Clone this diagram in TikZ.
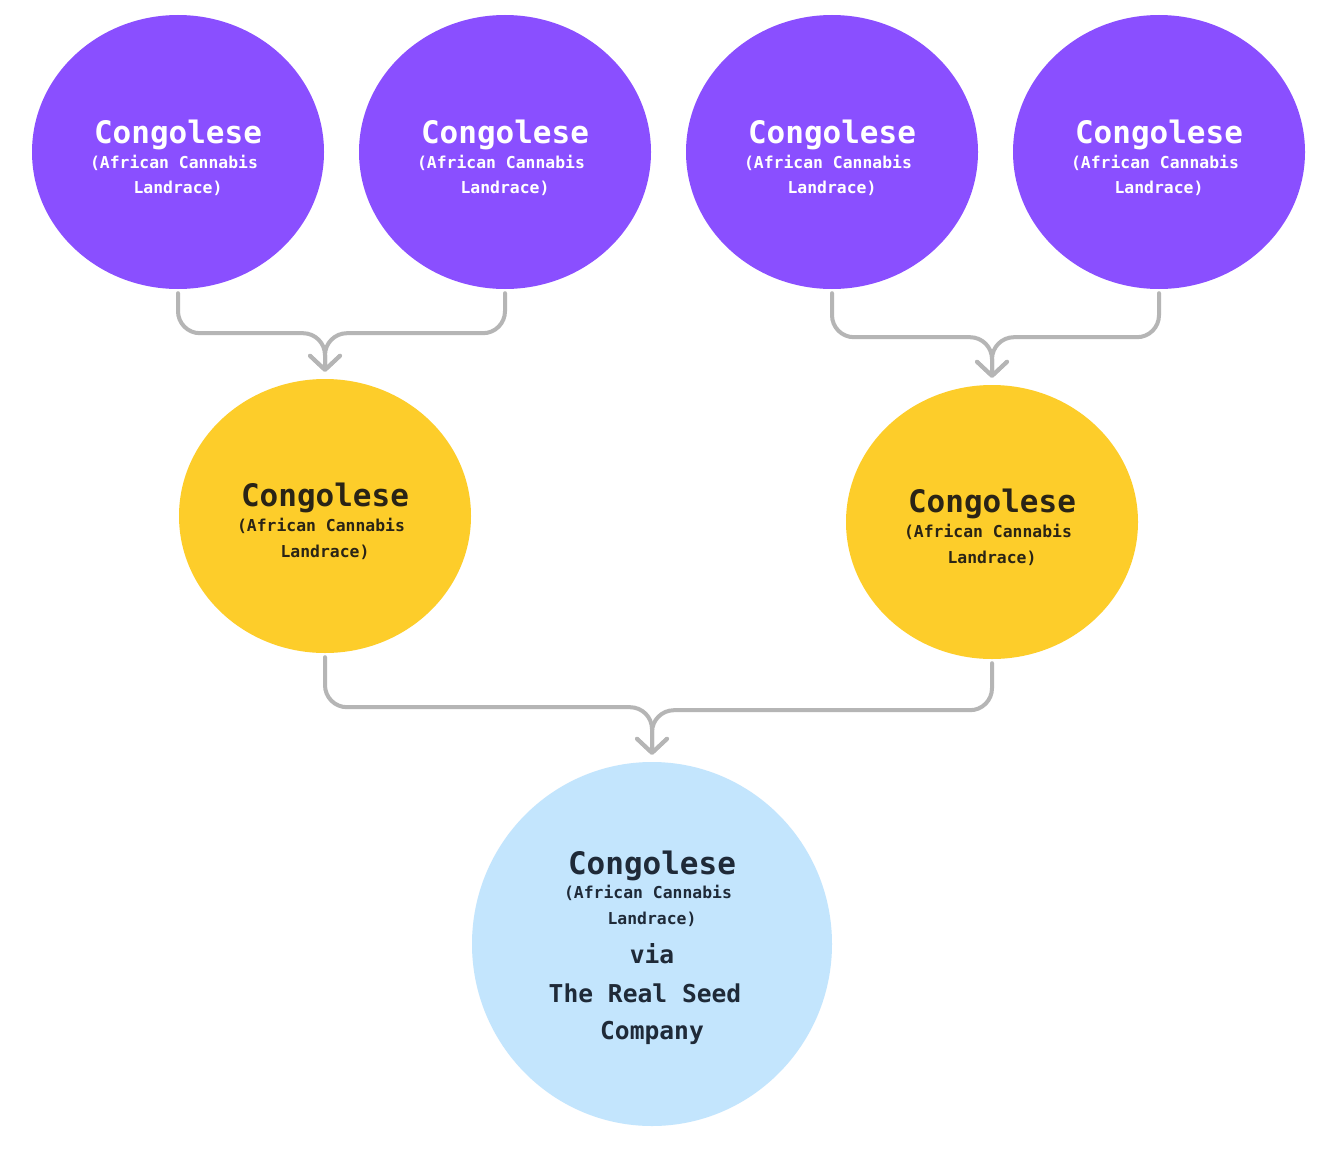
\documentclass[tikz,border=0pt]{standalone}
\usepackage{fontspec}
\newfontfamily\monob{DejaVu Sans Mono}[BoldFont={DejaVu Sans Mono Bold}]
\usetikzlibrary{shapes.geometric,arrows.meta}
\definecolor{purp}{HTML}{8A4FFF}
\definecolor{yel}{HTML}{FDCD2A}
\definecolor{lblue}{HTML}{C3E5FD}
\definecolor{conncol}{HTML}{B5B5B5}
\definecolor{ytext}{HTML}{2A2416}
\definecolor{btext}{HTML}{1F2A38}
\tikzset{
  bubble/.style={ellipse, inner sep=0pt, minimum width=292pt, minimum height=274pt, draw=none},
  bigt/.style={anchor=base, inner sep=0pt, font=\monob\bfseries\fontsize{31}{31}\selectfont},
  smallt/.style={anchor=base, inner sep=0pt, font=\monob\bfseries\fontsize{16.4}{16.4}\selectfont},
  midt/.style={anchor=base, inner sep=0pt, font=\monob\bfseries\fontsize{24.6}{24.6}\selectfont},
  conn/.style={draw=conncol, line width=4pt, rounded corners=22pt, line cap=round,
    -{Straight Barb[length=14pt,width=30pt,line cap=round,line join=round]},
    shorten <=4pt, shorten >=7pt},
}
\begin{document}
\begin{tikzpicture}[x=1pt,y=-1pt]
\useasboundingbox (0,0) rectangle (1341,1156);
\fill[white] (0,0) rectangle (1341,1156);
% purple parents
\foreach \n/\x in {p1/178,p2/505,p3/832,p4/1159}{
  \node[bubble, fill=purp] (\n) at (\x,152) {};
  \node[bigt, text=white] (\n a) at (\x,143) {Congolese};
  \node[smallt, text=white] (\n b) at (\x-4,168) {(African Cannabis};
  \node[smallt, text=white] (\n c) at (\x,193) {Landrace)};
}
% yellow children
\node[bubble, fill=yel] (y1) at (325,516) {};
\node[bigt, text=ytext] (y1a) at (325,506) {Congolese};
\node[smallt, text=ytext] (y1b) at (321,531) {(African Cannabis};
\node[smallt, text=ytext] (y1c) at (325,557) {Landrace)};
\node[bubble, fill=yel] (y2) at (992,522) {};
\node[bigt, text=ytext] (y2a) at (992,512) {Congolese};
\node[smallt, text=ytext] (y2b) at (988,537) {(African Cannabis};
\node[smallt, text=ytext] (y2c) at (992,563) {Landrace)};
% blue result
\node[ellipse, inner sep=0pt, minimum width=360pt, minimum height=364pt, fill=lblue] (b) at (652,944) {};
\node[bigt, text=btext] (ba) at (652,874) {Congolese};
\node[smallt, text=btext] (bb) at (648,898) {(African Cannabis};
\node[smallt, text=btext] (bc) at (652,924) {Landrace)};
\node[midt, text=btext] (bd) at (652,963) {via};
\node[midt, text=btext] (be) at (645,1002) {The Real Seed};
\node[midt, text=btext] (bf) at (652,1039) {Company};
% connectors
\draw[conn] (p1.south) -- ++(0,44) -| (y1.north);
\draw[conn] (p2.south) -- ++(0,44) -| (y1.north);
\draw[conn] (p3.south) -- ++(0,48) -| (y2.north);
\draw[conn] (p4.south) -- ++(0,48) -| (y2.north);
\draw[conn] (y1.south) -- ++(0,54) -| (b.north);
\draw[conn] (y2.south) -- ++(0,51) -| (b.north);
\end{tikzpicture}
\end{document}
